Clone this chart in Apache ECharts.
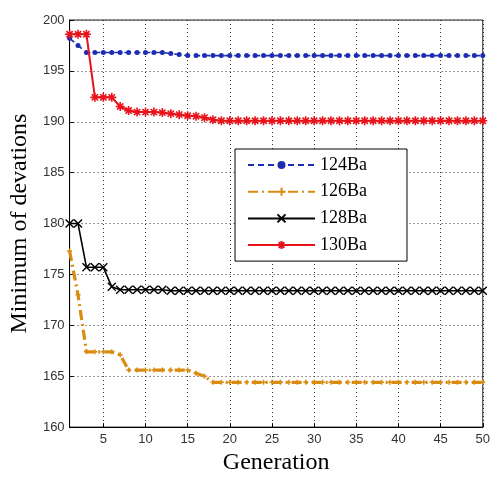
<!DOCTYPE html>
<html>
<head>
<meta charset="utf-8">
<script src="https://cdn.jsdelivr.net/npm/echarts@6/dist/echarts.min.js"></script>
<style>html,body{margin:0;padding:0;background:#fff;}#c{width:493px;height:480px;}</style>
</head>
<body>
<div id="c"></div>
<script>
// Categories (generations)
var generations = ['1','2','3','4','5','6','7','8','9','10','11','12','13','14','15','16','17','18','19','20','21','22','23','24','25','26','27','28','29','30','31','32','33','34','35','36','37','38','39','40','41','42','43','44','45','46','47','48','49','50'];
// Series values
var ba124 = [198.2,197.5,196.8,196.8,196.8,196.8,196.8,196.8,196.8,196.8,196.8,196.8,196.7,196.6,196.5,196.5,196.5,196.5,196.5,196.5,196.5,196.5,196.5,196.5,196.5,196.5,196.5,196.5,196.5,196.5,196.5,196.5,196.5,196.5,196.5,196.5,196.5,196.5,196.5,196.5,196.5,196.5,196.5,196.5,196.5,196.5,196.5,196.5,196.5,196.5];
var ba126 = [177.3,173.0,167.4,167.4,167.4,167.4,167.1,165.6,165.6,165.6,165.6,165.6,165.6,165.6,165.6,165.3,165.0,164.4,164.4,164.4,164.4,164.4,164.4,164.4,164.4,164.4,164.4,164.4,164.4,164.4,164.4,164.4,164.4,164.4,164.4,164.4,164.4,164.4,164.4,164.4,164.4,164.4,164.4,164.4,164.4,164.4,164.4,164.4,164.4,164.4];
var ba128 = [180.0,180.0,175.7,175.7,175.7,173.8,173.5,173.5,173.5,173.5,173.5,173.5,173.4,173.4,173.4,173.4,173.4,173.4,173.4,173.4,173.4,173.4,173.4,173.4,173.4,173.4,173.4,173.4,173.4,173.4,173.4,173.4,173.4,173.4,173.4,173.4,173.4,173.4,173.4,173.4,173.4,173.4,173.4,173.4,173.4,173.4,173.4,173.4,173.4,173.4];
var ba130 = [198.6,198.6,198.6,192.4,192.4,192.4,191.5,191.1,190.95,190.95,190.95,190.9,190.8,190.7,190.6,190.55,190.4,190.2,190.1,190.1,190.1,190.1,190.1,190.1,190.1,190.1,190.1,190.1,190.1,190.1,190.1,190.1,190.1,190.1,190.1,190.1,190.1,190.1,190.1,190.1,190.1,190.1,190.1,190.1,190.1,190.1,190.1,190.1,190.1,190.1];
var seriesNames = ['124Ba','126Ba','128Ba','130Ba'];
var yTicks = {min:160, max:200, interval:5};

var every5 = function(i){ return (i+1) % 5 === 0; };
var serif = 'Liberation Serif';
var sans = 'Liberation Sans';

var chart = echarts.init(document.getElementById('c'));
chart.setOption({
  animation: false,
  backgroundColor: '#fff',
  grid: {left: 63, top: 20, right: 7, bottom: 41, show: true, borderColor: '#222', borderWidth: 1, backgroundColor: 'transparent'},
  legend: {
    orient: 'vertical', left: 235, top: 149,
    itemWidth: 67, itemHeight: 10, itemGap: 8.7,
    padding: [7, 40, 7, 12],
    borderColor: '#000', borderWidth: 1, backgroundColor: '#fff',
    textStyle: {fontFamily: serif, fontSize: 18, color: '#000'},
    data: seriesNames
  },
  xAxis: {
    type: 'category', data: generations, boundaryGap: false,
    name: 'Generation', nameLocation: 'middle', nameGap: 19,
    nameTextStyle: {fontFamily: serif, fontSize: 24, color: '#000'},
    axisLine: {show: true, lineStyle: {color: '#000', width: 1}},
    axisTick: {show: true, inside: true, length: 4, interval: every5, lineStyle: {color: '#000'}},
    axisLabel: {interval: every5, margin: 6, fontFamily: sans, fontSize: 13, color: '#333'},
    splitLine: {show: true, interval: every5, lineStyle: {color: '#333', type: [1, 3], width: 1}}
  },
  yAxis: {
    type: 'value', min: yTicks.min, max: yTicks.max, interval: yTicks.interval,
    name: 'Minimum of devations', nameLocation: 'middle', nameGap: 30,
    nameTextStyle: {fontFamily: serif, fontSize: 24, color: '#000'},
    axisLine: {show: true, lineStyle: {color: '#000', width: 1}},
    axisTick: {show: true, inside: true, length: 4, lineStyle: {color: '#000'}},
    axisLabel: {margin: 5, fontFamily: sans, fontSize: 13, color: '#333'},
    splitLine: {show: true, lineStyle: {color: '#333', type: [1, 3], width: 1}}
  },
  series: [
    {name: seriesNames[0], type: 'line', data: ba124, symbol: 'circle', symbolSize: 5, showAllSymbol: true,
     lineStyle: {color: '#1c2db3', width: 1.6, type: [6, 4]},
     itemStyle: {color: '#1c2db3'}, z: 3},
    {name: seriesNames[1], type: 'line', data: ba126, showAllSymbol: true,
     symbol: 'path://M5,0L5,10M0,5L10,5', symbolSize: 5,
     lineStyle: {color: '#d98c12', width: 3.2, type: [10, 4, 2, 4]},
     itemStyle: {color: '#d98c12', borderColor: '#d98c12', borderWidth: 1.5}, z: 2},
    {name: seriesNames[2], type: 'line', data: ba128, showAllSymbol: true,
     symbol: 'path://M0,0L10,10M10,0L0,10', symbolSize: 8,
     lineStyle: {color: '#000', width: 1.6},
     itemStyle: {color: '#000', borderColor: '#000', borderWidth: 1.4}, z: 4},
    {name: seriesNames[3], type: 'line', data: ba130, showAllSymbol: true,
     symbol: 'path://M5,0L5,10M0,5L10,5M1.5,1.5L8.5,8.5M8.5,1.5L1.5,8.5', symbolSize: 9,
     lineStyle: {color: '#e8121b', width: 2},
     itemStyle: {color: '#e8121b', borderColor: '#e8121b', borderWidth: 1.6}, z: 5}
  ]
});
</script>
</body>
</html>
